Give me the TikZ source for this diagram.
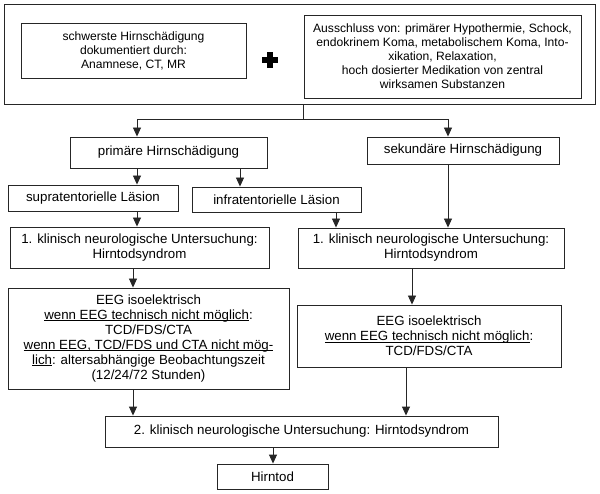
\documentclass[tikz,border=0pt]{standalone}
\usepackage{fontspec}
\setmainfont{Liberation Sans}
\usetikzlibrary{arrows.meta,calc}
\newlength\myulw
\newcommand\myul[1]{\settowidth\myulw{#1}\rlap{\rule[-1.8pt]{\myulw}{0.8pt}}#1}
\begin{document}
\begin{tikzpicture}[x=1pt,y=-1pt,
  box/.style={draw=black!85,line width=0.9pt,rectangle,inner sep=0pt,align=center,font=\fontsize{13.3}{15}\selectfont},
  topbox/.style={box,font=\fontsize{12.1}{14}\selectfont},
  conn/.style={draw=black!85,line width=0.9pt},
  arr/.style={conn,-{Triangle[width=8pt,length=9pt]}}]
\useasboundingbox (0,0) rectangle (600,494);
\fill[white] (0,0) rectangle (600,494);
% top group
\node[box,minimum width=591,minimum height=100] (outer) at (299.5,54) {};
\node[topbox,minimum width=225,minimum height=55] (hirn) at (133.5,50.5) {schwerste Hirnschädigung\\dokumentiert durch:\\Anamnese, CT, MR};
\node[topbox,minimum width=277,minimum height=83] (aus) at (442.5,56.5) {Ausschluss von: primärer Hypothermie, Schock,\\endokrinem Koma, metabolischem Koma, Into-\\xikation, Relaxation,\\hoch dosierter Medikation von zentral\\wirksamen Substanzen};
\node[inner sep=0pt,minimum size=16pt] (plus) at (270,60) {};
\fill[black] ($(plus.center)+(-8,-2.8)$) rectangle ($(plus.center)+(8,2.8)$);
\fill[black] ($(plus.center)+(-2.8,-8)$) rectangle ($(plus.center)+(2.8,8)$);
% second level
\node[box,minimum width=197,minimum height=31] (prim) at (168.5,152.5) {primäre Hirnschädigung};
\node[box,minimum width=192,minimum height=27] (sek) at (463,150.5) {sekundäre Hirnschädigung};
\node[box,minimum width=170,minimum height=26] (supra) at (93,198) {supratentorielle Läsion};
\node[box,minimum width=169,minimum height=25] (infra) at (276.5,199.5) {infratentorielle Läsion};
\node[box,minimum width=259,minimum height=41] (klinL) at (139.5,247.5) {1. klinisch neurologische Untersuchung:\\Hirntodsyndrom};
\node[box,minimum width=266,minimum height=40] (klinR) at (431,248) {1. klinisch neurologische Untersuchung:\\Hirntodsyndrom};
\node[box,minimum width=281,minimum height=101] (eegL) at (148.5,338.5) {EEG isoelektrisch\\\myul{wenn EEG technisch nicht möglich}:\\TCD/FDS/CTA\\\myul{wenn EEG, TCD/FDS und CTA nicht mög-}\\\myul{lich}: altersabhängige Beobachtungszeit\\(12/24/72 Stunden)};
\node[box,minimum width=264,minimum height=62] (eegR) at (429,336) {EEG isoelektrisch\\\myul{wenn EEG technisch nicht möglich}:\\TCD/FDS/CTA};
\node[box,minimum width=393,minimum height=31] (klin2) at (301.5,431.5) {2. klinisch neurologische Untersuchung: Hirntodsyndrom};
\node[box,minimum width=111,minimum height=25] (tod) at (272.5,476.5) {Hirntod};
% x positions of connectors
\coordinate (split) at (303,119);
\coordinate (xa) at (137,0);
\coordinate (xb) at (448,0);
\coordinate (xc) at (240,0);
\coordinate (xd) at (336,0);
\coordinate (xe) at (133,0);
\coordinate (xf) at (412,0);
\coordinate (xg) at (406,0);
\coordinate (xh) at (273,0);
% connectors
\draw[conn] (outer.south -| split) -- (split);
\draw[arr] (split) -| (prim.north -| xa);
\draw[arr] (split) -| (sek.north -| xb);
\draw[arr] (prim.south -| xa) -- (supra.north -| xa);
\draw[arr] (prim.south -| xc) -- (infra.north -| xc);
\draw[arr] (supra.south -| xa) -- (klinL.north -| xa);
\draw[arr] (infra.south -| xd) -- (klinR.north -| xd);
\draw[arr] (sek.south -| xb) -- (klinR.north -| xb);
\draw[arr] (klinL.south -| xe) -- (eegL.north -| xe);
\draw[arr] (klinR.south -| xf) -- (eegR.north -| xf);
\draw[arr] (eegL.south -| xe) -- (klin2.north -| xe);
\draw[arr] (eegR.south -| xg) -- (klin2.north -| xg);
\draw[arr] (klin2.south -| xh) -- (tod.north -| xh);
\end{tikzpicture}
\end{document}
